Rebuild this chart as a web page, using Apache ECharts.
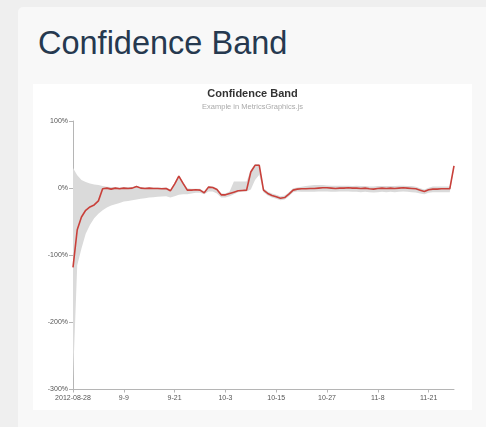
<!DOCTYPE html>
<html>
<head>
<meta charset="utf-8">
<script src="https://cdn.jsdelivr.net/npm/echarts@6/dist/echarts.min.js"></script>
<style>
  html, body { margin: 0; padding: 0; width: 486px; height: 427px; overflow: hidden; background: #efefef; font-family: "Liberation Sans", Arial, sans-serif; }
  #panel { position: absolute; left: 18px; top: 7px; width: 480px; height: 440px; background: #f8f8f8; border-radius: 5px; }
  #heading { position: absolute; left: 38px; top: 23px; margin: 0; font-size: 32.5px; font-weight: normal; color: #26394f; line-height: 40px; white-space: nowrap; }
  #chart { position: absolute; left: 33px; top: 84px; width: 439px; height: 326px; background: #ffffff; }
</style>
</head>
<body>
<div id="panel"></div>
<h1 id="heading">Confidence Band</h1>
<div id="chart"></div>
<script>
// ---- data ----
const startDate = '2012-08-28';
const values = [-118,-62,-43,-33,-28,-25,-19,-1,0,-1.5,0,-1,0,-0.5,0,2.5,0,-0.5,0,-0.5,-0.5,-1,-0.5,-4,6,18,7,-3,-3,-2.5,-3,-7,1.5,1,-2,-10,-10,-8,-6,-4,-3.5,-3,24,34,34,-3,-8,-11,-13,-15,-14,-9,-3,-1.5,-1,-1,-0.5,-0.5,0,0.5,0.5,0,-0.5,0,0,0.5,0,0,-0.5,0,-1,-1.5,-0.5,0,-0.5,0,-0.5,0,0.5,0,-0.5,-1,-3,-5,-2.5,-1.5,-1.5,-1,-1,-1,33];
const upper = [30,19,12,9,7,5.5,4.5,3,2,1.5,1.5,1,1.5,1.5,1.5,3.5,1.5,1,1,1,1,0.5,1,-2,8,19,9,0,-1,-1,-1,-5,3,2.5,0,-8,-8,-5,10,10,10,10,27,36,36,0,-5,-8,-10,-12,-11,-6,0,1,2,3,4,4.5,4.5,4.5,4,3.5,3.5,3.5,3.5,3.5,3,3.5,3,3,2.5,2.5,3,3,3,3,3,3.5,3.5,3,3,2,0,-2,0.5,2.5,2.5,2.5,2.5,2.5,35];
const lower = [-285,-115,-90,-68,-55,-45,-38,-33,-29,-26,-24,-22,-20,-19,-18,-17,-16,-15,-14,-13.5,-13,-12.5,-12,-14,-12,-10,-9,-9,-8,-7,-7,-9,-5,-5,-8,-14,-14,-12,-9,-6,-5,-5,-2,12,20,-6,-11,-14,-16,-18,-17,-12,-6,-5,-5.5,-5.5,-5.5,-5.5,-5,-5,-5,-5.5,-5.5,-5,-5,-5,-5.5,-5.5,-6,-5.5,-6,-6.5,-6,-5.5,-6,-5.5,-6,-5.5,-5,-5.5,-6,-6.5,-8,-9,-7,-6,-6,-6,-6,-6,30];
const tickIndices = [0, 12, 24, 36, 48, 60, 72, 84];
const tickLabels = ['2012-08-28', '9-9', '9-21', '10-3', '10-15', '10-27', '11-8', '11-21'];
const yTicks = [-300, -200, -100, 0, 100];

// categories: one per day
const dates = [];
(function () {
  const d0 = new Date(startDate + 'T00:00:00Z');
  for (let i = 0; i < values.length; i++) {
    const d = new Date(d0.getTime() + i * 86400000);
    dates.push(d.toISOString().slice(0, 10));
  }
})();
const bandWidth = upper.map((u, i) => u - lower[i]);

const chart = echarts.init(document.getElementById('chart'), null, { renderer: 'canvas' });
chart.setOption({
  animation: false,
  backgroundColor: '#ffffff',
  title: [
    { text: 'Confidence Band', left: 'center', top: -1,
      textStyle: { fontFamily: 'Liberation Sans, Arial', fontSize: 11, fontWeight: 'bold', color: '#333333' } },
    { text: 'Example in MetricsGraphics.js', left: 'center', top: 14,
      textStyle: { fontFamily: 'Liberation Sans, Arial', fontSize: 7.5, fontWeight: 'normal', color: '#aaaaaa' } }
  ],
  grid: { left: 40, right: 18, top: 37, bottom: 20.5 },
  xAxis: {
    type: 'category',
    data: dates,
    boundaryGap: false,
    axisLine: { onZero: false, lineStyle: { color: '#b5b5b5', width: 1 } },
    axisTick: { show: true, length: 3, interval: (i) => tickIndices.includes(i), lineStyle: { color: '#b5b5b5' } },
    axisLabel: {
      interval: (i) => tickIndices.includes(i),
      formatter: (v, i) => { const k = tickIndices.indexOf(i); return k >= 0 ? tickLabels[k] : ''; },
      fontFamily: 'Liberation Sans, Arial', fontSize: 7, color: '#555555', margin: 5
    },
    splitLine: { show: false }
  },
  yAxis: {
    type: 'value',
    min: yTicks[0], max: yTicks[yTicks.length - 1], interval: 100,
    axisLine: { show: true, lineStyle: { color: '#b5b5b5', width: 1 } },
    axisTick: { show: true, length: 4, lineStyle: { color: '#b5b5b5' } },
    axisLabel: { formatter: '{value}%', fontFamily: 'Liberation Sans, Arial', fontSize: 7, color: '#555555', margin: 5 },
    splitLine: { show: false }
  },
  series: [
    { name: 'lower', type: 'line', data: lower, stack: 'band', stackStrategy: 'all',
      symbol: 'none', lineStyle: { opacity: 0 }, silent: true },
    { name: 'band', type: 'line', data: bandWidth, stack: 'band', stackStrategy: 'all',
      symbol: 'none', lineStyle: { opacity: 0 }, areaStyle: { color: '#dadada', opacity: 1 }, silent: true },
    { name: 'value', type: 'line', data: values, symbol: 'none',
      lineStyle: { color: '#c9403a', width: 1.6 }, z: 5 }
  ]
});
</script>
</body>
</html>
